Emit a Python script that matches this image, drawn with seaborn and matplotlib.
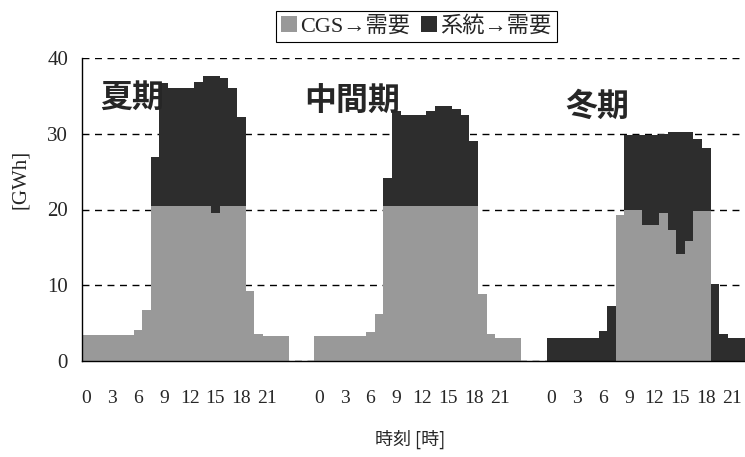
"""
Hourly electricity demand split by supply source (CGS vs grid),
for summer, mid-season and winter, drawn as stacked bars.
"""

import matplotlib
matplotlib.use('Agg')
import matplotlib.pyplot as plt
import pandas as pd
import seaborn as sns

# --- data [GWh] --------------------------------------------------------------
HOURS = list(range(24))
TICK_HOURS = [0, 3, 6, 9, 12, 15, 18, 21]
SEASONS = ['夏期', '中間期', '冬期']
LEGEND_LABELS = ['CGS→需要', '系統→需要']

SUMMER_CGS = [3.4, 3.4, 3.4, 3.4, 3.4, 3.4, 4.1, 6.7, 20.4, 20.4, 20.4, 20.4,
              20.4, 20.4, 20.4, 19.6, 20.4, 20.4, 20.4, 9.3, 3.6, 3.3, 3.3, 3.3]
SUMMER_GRID = [0, 0, 0, 0, 0, 0, 0, 0, 6.5, 16.3, 15.6, 15.6,
               15.6, 16.4, 17.2, 18.0, 16.9, 15.6, 11.8, 0, 0, 0, 0, 0]

MID_CGS = [3.3, 3.3, 3.3, 3.3, 3.3, 3.3, 3.8, 6.2, 20.4, 20.4, 20.4, 20.4,
           20.4, 20.4, 20.4, 20.4, 20.4, 20.4, 20.4, 8.8, 3.5, 3.1, 3.1, 3.1]
MID_GRID = [0, 0, 0, 0, 0, 0, 0, 0, 3.7, 12.6, 12.1, 12.1,
            12.1, 12.6, 13.3, 13.3, 12.9, 12.1, 8.6, 0, 0, 0, 0, 0]

WINTER_CGS = [0, 0, 0, 0, 0, 0, 0, 0, 19.3, 19.9, 19.9, 18.0,
              18.0, 19.5, 17.3, 14.1, 15.9, 19.8, 19.8, 0, 0, 0, 0, 0]
WINTER_GRID = [3.1, 3.1, 3.1, 3.1, 3.1, 3.1, 3.9, 7.2, 0, 9.9, 9.9, 11.8,
               11.9, 10.5, 12.9, 16.1, 14.3, 9.5, 8.3, 10.2, 3.6, 3.1, 3.1, 3.1]

GROUP_STEP = 27  # 24 hours + 3 empty slots between seasons
GREY = '#999999'
DARK = '#2d2d2d'


def build_dataframe() -> pd.DataFrame:
    """Long table: one row per season/hour with slot position on the x axis."""
    cgs = [SUMMER_CGS, MID_CGS, WINTER_CGS]
    grid = [SUMMER_GRID, MID_GRID, WINTER_GRID]
    rows = []
    for g, season in enumerate(SEASONS):
        for h in HOURS:
            rows.append({'season': season, 'hour': h,
                         'slot': g * GROUP_STEP + h,
                         'cgs': cgs[g][h], 'grid': grid[g][h]})
    df = pd.DataFrame(rows)
    df['total'] = df['cgs'] + df['grid']
    return df


def plot_demand(df: pd.DataFrame) -> None:
    sns.set_style('white')
    plt.rcParams['font.family'] = ['Liberation Serif', 'Noto Sans CJK JP']

    fig = plt.figure(figsize=(7.45, 4.57), dpi=100)
    ax = fig.add_axes([82 / 745, 96 / 457, 663 / 745, 303 / 457])

    # total (grid on top) first, then CGS share over it
    sns.barplot(data=df, x='slot', y='total', native_scale=True, width=1,
                color=DARK, saturation=1, linewidth=0, errorbar=None,
                label=LEGEND_LABELS[1], ax=ax)
    sns.barplot(data=df, x='slot', y='cgs', native_scale=True, width=1,
                color=GREY, saturation=1, linewidth=0, errorbar=None,
                label=LEGEND_LABELS[0], ax=ax)

    ax.set_xlim(-0.5, 76.3)
    ax.set_ylim(0, 40)
    ax.set_yticks([0, 10, 20, 30, 40])
    ax.yaxis.grid(True, linestyle=(0, (5, 4)), color='black', linewidth=1)
    ax.xaxis.grid(False)
    ax.set_axisbelow(True)
    ax.xaxis.set_zorder(3)

    ticks = [g * GROUP_STEP + h for g in range(len(SEASONS)) for h in TICK_HOURS]
    ax.set_xticks(ticks)
    ax.set_xticklabels([str(h) for _ in SEASONS for h in TICK_HOURS])
    ax.set_xticks([k - 0.5 for k in range(78)], minor=True)
    ax.tick_params(axis='x', which='major', length=0, pad=21, labelsize=14)
    ax.tick_params(axis='x', which='minor', direction='in', length=3,
                   width=0.8, color='black')
    ax.tick_params(axis='y', length=0, pad=10, labelsize=15)

    for side in ['top', 'right']:
        ax.spines[side].set_visible(False)
    for side in ['left', 'bottom']:
        ax.spines[side].set_color('black')
        ax.spines[side].set_linewidth(1)

    ax.set_ylabel('[GWh]', fontsize=15)
    ax.yaxis.set_label_coords(-0.093, 0.6)
    ax.yaxis.label.set_va('center')
    ax.set_xlabel('時刻 [時]', fontsize=13, family=['Noto Sans CJK JP'])
    ax.xaxis.set_label_coords(0.495, -0.26)
    ax.xaxis.label.set_va('center')

    # season names
    label_pos = [(5.3, 34.7), (GROUP_STEP + 3.9, 34.2), (2 * GROUP_STEP + 5.3, 33.6)]
    for season, (x, y) in zip(SEASONS, label_pos):
        ax.text(x, y, season, ha='center', va='center', fontsize=23,
                fontweight='bold', family=['Noto Sans CJK JP'], zorder=5)

    handles, labels = ax.get_legend_handles_labels()
    order = [labels.index(lab) for lab in LEGEND_LABELS]
    leg = ax.legend([handles[i] for i in order], [labels[i] for i in order],
                    loc='center', bbox_to_anchor=(0.559, 0.942),
                    bbox_transform=fig.transFigure, ncol=2, fontsize=16,
                    frameon=True, fancybox=False, framealpha=1,
                    edgecolor='black', handlelength=0.7, handleheight=0.7,
                    handletextpad=0.15, columnspacing=0.5, borderpad=0.25)
    leg.get_frame().set_linewidth(0.8)

    fig.savefig('out.png', dpi=100)


def main():
    df = build_dataframe()
    plot_demand(df)


if __name__ == '__main__':
    main()
